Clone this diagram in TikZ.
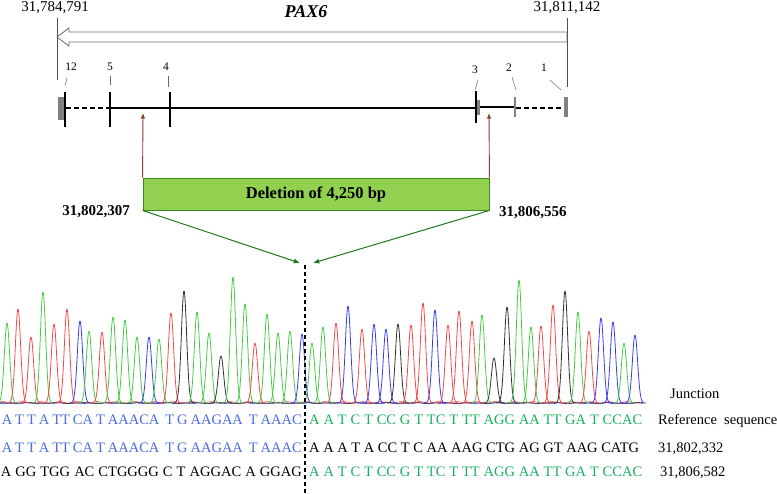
\documentclass[tikz,border=0pt]{standalone}
\usepackage{fontspec}
\setmainfont{Liberation Serif}
\usetikzlibrary{arrows.meta, positioning}
\definecolor{cDel}   {HTML}{92D050}
\definecolor{cDelDk} {HTML}{3A8A1E}
\definecolor{cArrG}  {HTML}{1E7A1E}
\definecolor{cBrown} {HTML}{8B3A2F}
\definecolor{cSeqB}  {HTML}{4A6CE0}
\definecolor{cSeqG}  {HTML}{18B060}
\definecolor{cTrG}   {HTML}{44CC44}
\definecolor{cTrR}   {HTML}{F04848}
\definecolor{cTrB}   {HTML}{3A3AF0}
\definecolor{cTrK}   {HTML}{303030}
\definecolor{cExon}  {HTML}{808080}
\newcommand{\fs}[1]{\fontsize{#1}{#1}\selectfont}

\begin{document}
\begin{tikzpicture}[x=1pt, y=-1pt,
      lbl/.style  = {inner sep=0pt, font=\fs{15}},
      exn/.style  = {inner sep=0pt, font=\fs{11.5}},
      seq/.style  = {inner sep=0pt, font=\fs{14.5}},
      tick/.style = {line width=1.4pt},
      lead/.style = {draw=black!60, line width=0.5pt},
      trace/.style = {line width=0.8pt, line join=round},
      brar/.style = {-{Latex[length=2mm, width=1.6mm]}, draw=cBrown, line width=0.9pt},
      grar/.style = {-{Latex[length=2.2mm, width=1.8mm]}, draw=cArrG, line width=1pt} ]
    \useasboundingbox (0,0) rectangle (777,493);
    % gene span and direction
    \node[lbl, anchor=base] (p0) at (55,11) {31,784,791};
    \node[lbl, anchor=base] (p1) at (567,11) {31,811,142};
    \node[inner sep=0pt, anchor=base, font=\fs{18}\bfseries\itshape] (gene) at (306,17) {PAX6};
    \draw[black!70, line width=0.7pt] (57,18) -- (57,80);
    \draw[black!70, line width=0.7pt] (567,18) -- (567,87);
    \draw[black!55, line width=0.9pt, line join=miter]
      (567,32) -- (69,32) -- (69,28) -- (57,37) -- (69,46) -- (69,42) -- (567,42) -- cycle;
    % exons and introns
    \fill[cExon] (58,97) rectangle (64,120);
    \draw[tick] (65,92) -- (65,127);
    \draw[line width=1.3pt, dash pattern=on 5pt off 3pt] (66,108) -- (110,108);
    \draw[line width=1.3pt] (110,108) -- (476,108);
    \draw[tick] (110,92) -- (110,127);
    \draw[tick] (170,92) -- (170,127);
    \draw[tick] (476,91) -- (476,123);
    \fill[cExon] (477,100) rectangle (480,115);
    \draw[line width=1.3pt] (480,107) -- (515,107);
    \draw[cExon, line width=2pt] (515,97) -- (515,117);
    \draw[line width=1.3pt, dash pattern=on 5pt off 3pt] (516,108) -- (564,108);
    \fill[cExon] (564,97) rectangle (568,117);
    % exon numbers
    \node[exn, anchor=base] (e12) at (71,70) {12};
    \node[exn, anchor=base] (e5)  at (110,70) {5};
    \node[exn, anchor=base] (e4)  at (166,70) {4};
    \node[exn, anchor=base] (e3)  at (475,73) {3};
    \node[exn, anchor=base] (e2)  at (509,71) {2};
    \node[exn, anchor=base] (e1)  at (544,71) {1};
    \draw[lead] (67,78) -- (65,86);
    \draw[lead] (110,76) -- (110,85);
    \draw[lead] (168,76) -- (168,87);
    \draw[lead] (478,80) -- (475,90);
    \draw[lead] (512,77) -- (516,90);
    \draw[lead] (550,80) -- (561,90);
    % deletion
    \node[draw=cDelDk, fill=cDel, line width=0.9pt, minimum width=346pt, minimum height=32pt,
          inner sep=0pt, font=\fs{16.5}\bfseries] (del) at (316,194) {Deletion of 4,250 bp};
    \coordinate (tipL) at (143,113);
    \coordinate (tipR) at (489,113);
    \draw[brar] (del.north west) -- (tipL);
    \draw[brar] (del.north east) -- (tipR);
    \node[lbl, font=\fs{15}\bfseries, anchor=base east] (bL) at (130,215) {31,802,307};
    \node[lbl, font=\fs{15}\bfseries, anchor=base west] (bR) at (499,216) {31,806,556};
    \coordinate (jL) at (300,263);
    \coordinate (jR) at (313,263);
    \draw[grar] (del.south west) -- (jL);
    \draw[grar] (del.south east) -- (jR);
    % chromatogram
    \draw[cTrB, line width=0.6pt] plot[domain=0:643, samples=160, smooth] (\x,{403.2+0.6*sin(\x*23)});
    \draw[cTrR, line width=0.6pt] plot[domain=0:643, samples=160, smooth] (\x,{402.4-0.8*sin(\x*19+40)});
    \draw[cTrK, line width=0.5pt] plot[domain=0:643, samples=160, smooth] (\x,{403-0.5*sin(\x*13+90)});
    \foreach \px/\py/\pc in {7/323/cTrG, 18/309/cTrR, 31/337/cTrR, 43/292/cTrG, 54/324/cTrR,
        67/309/cTrR, 80/321/cTrB, 89/331/cTrG, 102/332/cTrR, 113/317/cTrG, 125/320/cTrG,
        137/337/cTrG, 149/337/cTrB, 159/339/cTrG, 171/313/cTrR, 184/291/cTrK, 197/312/cTrG,
        209/333/cTrG, 221/356/cTrK, 233/277/cTrG, 245/304/cTrG, 255/343/cTrR, 267/314/cTrG,
        278/333/cTrG, 290/331/cTrG, 302/334/cTrB, 312/343/cTrG, 323/327/cTrG, 336/323/cTrR,
        348/306/cTrB, 362/329/cTrR, 374/324/cTrB, 386/329/cTrB, 398/324/cTrK, 411/325/cTrR,
        423/303/cTrR, 435/310/cTrB, 448/325/cTrR, 459/311/cTrR, 472/321/cTrR, 482/315/cTrG,
        494/358/cTrK, 507/307/cTrK, 519/280/cTrG, 531/327/cTrG, 541/326/cTrR, 553/305/cTrR,
        565/291/cTrK, 578/312/cTrG, 589/331/cTrR, 601/318/cTrB, 613/322/cTrB, 624/343/cTrG,
        635/335/cTrB}
      \draw[\pc, trace] plot[domain=-11:11, samples=37, smooth] ({\px+\x},{403-(403-\py)*exp(-(\x*\x)/14)});
    % junction line
    \coordinate (dTop) at (305,265);
    \coordinate (dBot) at (305,493);
    \draw[line width=1.3pt, dash pattern=on 4pt off 3pt] (dTop) -- (dBot);
    % sequences
    \node[seq, anchor=base east, text=cSeqB] (s1L) at (302,424)
      {\makebox[300pt][s]{A T T A TT CA T AAACA \ T G AAGAA \ T AAAC}};
    \node[seq, anchor=base west, text=cSeqG] (s1R) at (309,424)
      {\makebox[333pt][s]{A A T C T CC G T TC T TT AGG AA TT GA T CCAC}};
    \node[seq, anchor=base east, text=cSeqB] (s2L) at (302,452)
      {\makebox[300pt][s]{A T T A TT CA T AAACA \ T G AAGAA \ T AAAC}};
    \node[seq, anchor=base west] (s2R) at (309,452)
      {\makebox[330pt][s]{A A A T A CC T C AA AAG CTG AG GT AAG CATG}};
    \node[seq, anchor=base east] (s3L) at (302,476)
      {\makebox[301pt][s]{A GG TGG AC CTGGGG C T AGGAC A GGAG}};
    \node[seq, anchor=base west, text=cSeqG] (s3R) at (309,476)
      {\makebox[333pt][s]{A A T C T CC G T TC T TT AGG AA TT GA T CCAC}};
    % row captions
    \node[seq, anchor=base west] (cJ)  at (670,398) {Junction};
    \node[seq, anchor=base west] (cRef) at (658,424) {Reference \ sequence};
    \node[seq, anchor=base west] (cA)  at (658,452) {31,802,332};
    \node[seq, anchor=base west] (cB)  at (660,476) {31,806,582};
  \end{tikzpicture}
\end{document}
